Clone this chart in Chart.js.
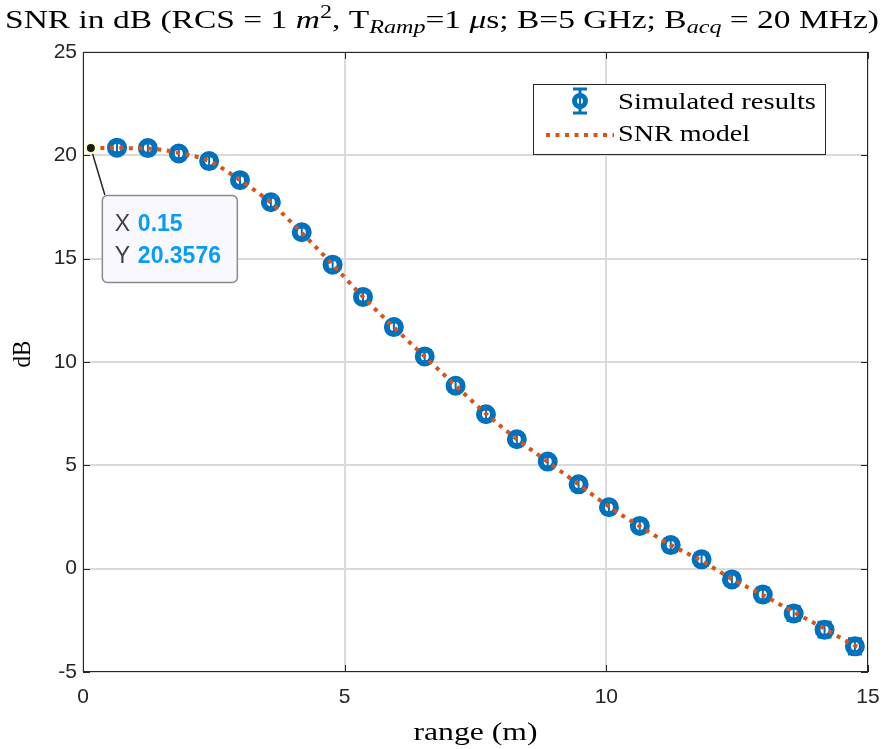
<!DOCTYPE html>
<html><head><meta charset="utf-8">
<script src="https://cdn.jsdelivr.net/npm/chart.js@4/dist/chart.umd.min.js"></script>
<style>html,body{margin:0;padding:0;background:#fff;} #wrap{width:884px;height:749px;position:relative;}</style>
</head><body><div id="wrap"><canvas id="c" width="884" height="749"></canvas></div>
<script>
// ---- data ----
const rangeM   = [0.65,1.24,1.83,2.41,3.00,3.59,4.18,4.77,5.35,5.94,6.53,7.12,7.70,8.29,8.88,9.47,10.05,10.64,11.23,11.82,12.40,12.99,13.58,14.17,14.75];
const snrSim   = [20.37,20.35,20.09,19.72,18.80,17.73,16.28,14.71,13.15,11.69,10.27,8.85,7.47,6.26,5.18,4.08,2.97,2.07,1.14,0.45,-0.52,-1.25,-2.17,-2.95,-3.76];
const snrErr   = [0.25,0.25,0.25,0.25,0.25,0.25,0.25,0.25,0.25,0.25,0.25,0.25,0.25,0.26,0.26,0.27,0.27,0.28,0.28,0.29,0.30,0.32,0.34,0.36,0.37];
const modelRange = [0.15,0.65,1.24,1.83,2.41,3.00,3.59,4.18,4.77,5.35,5.94,6.53,7.12,7.70,8.29,8.88,9.47,10.05,10.64,11.23,11.82,12.40,12.99,13.58,14.17,14.75,14.90];
const snrModel   = [20.3576,20.35,20.33,20.12,19.72,18.80,17.70,16.25,14.72,13.15,11.68,10.26,8.86,7.50,6.27,5.17,4.08,3.00,2.05,1.15,0.38,-0.50,-1.27,-2.10,-2.90,-3.72,-3.86];
const xTicks = [0,5,10,15];
const yTicks = [-5,0,5,10,15,20,25];
const seriesLabels = ['Simulated results','SNR model'];
const tipX = 0.15, tipY = 20.3576;
const xTitle = 'range (m)';
const yTitle = 'dB';
const titleParts = [
  {t:'SNR in dB (RCS = 1 '},
  {t:'m', it:true},
  {t:'2', sup:true},
  {t:', T'},
  {t:'Ramp', it:true, sub:true},
  {t:'=1 '},
  {t:'\u03BC', it:true},
  {t:'s; B=5 GHz; B'},
  {t:'acq', it:true, sub:true},
  {t:' = 20 MHz)'}
];

const BLUE = '#0072BD', ORANGE = '#D95319', AX = '#262626';
const SERIF = '"Liberation Serif", "Times New Roman", serif';
const SANS = '"Liberation Sans", Arial, Helvetica, sans-serif';

function stretchText(ctx, text, x, y, font, targetW, align) {
  ctx.save();
  ctx.font = font;
  const w = ctx.measureText(text).width;
  const s = targetW / w;
  ctx.textBaseline = 'alphabetic';
  ctx.textAlign = 'left';
  let x0 = x;
  if (align === 'center') x0 = x - targetW / 2;
  ctx.translate(x0, y);
  ctx.scale(s, 1);
  ctx.fillText(text, 0, 0);
  ctx.restore();
}

const deco = {
  id: 'deco',
  afterDatasetDraw(chart, args) {
    if (args.index !== 0) return;
    const ctx = chart.ctx, xs = chart.scales.x, ys = chart.scales.y;
    ctx.save();
    ctx.strokeStyle = BLUE;
    for (let i = 0; i < rangeM.length; i++) {
      const px = xs.getPixelForValue(rangeM[i]);
      const yt = ys.getPixelForValue(snrSim[i] + snrErr[i]);
      const yb = ys.getPixelForValue(snrSim[i] - snrErr[i]);
      ctx.lineWidth = 2;
      ctx.beginPath(); ctx.moveTo(px, yt); ctx.lineTo(px, yb); ctx.stroke();
      ctx.lineWidth = 3;
      ctx.beginPath();
      ctx.moveTo(px - 7, yt); ctx.lineTo(px + 7, yt);
      ctx.moveTo(px - 7, yb); ctx.lineTo(px + 7, yb);
      ctx.stroke();
    }
    ctx.restore();
  },
  afterDraw(chart) {
    const ctx = chart.ctx, a = chart.chartArea, xs = chart.scales.x, ys = chart.scales.y;
    ctx.save();
    // axes box
    ctx.strokeStyle = AX; ctx.lineWidth = 1;
    ctx.strokeRect(a.left + 0.5, a.top + 0.5, a.right - a.left - 1, a.bottom - a.top - 1);
    // inward ticks
    ctx.beginPath();
    xTicks.forEach(v => {
      const p = Math.round(xs.getPixelForValue(v)) + 0.5;
      ctx.moveTo(p, a.bottom); ctx.lineTo(p, a.bottom - 7);
      ctx.moveTo(p, a.top); ctx.lineTo(p, a.top + 7);
    });
    yTicks.forEach(v => {
      const p = Math.round(ys.getPixelForValue(v)) + 0.5;
      ctx.moveTo(a.left, p); ctx.lineTo(a.left + 7, p);
      ctx.moveTo(a.right, p); ctx.lineTo(a.right - 7, p);
    });
    ctx.stroke();

    // title (rich text)
    ctx.fillStyle = '#000';
    const fs = 25;
    const fontFor = p => (p.it ? 'italic ' : '') + Math.round((p.sub || p.sup) ? fs * 0.7 : fs) + 'px ' + SERIF;
    let total = 0;
    titleParts.forEach(p => { ctx.font = fontFor(p); p.w = ctx.measureText(p.t).width; total += p.w; });
    const targetW = 874, s = targetW / total;
    ctx.save();
    ctx.translate(442 - targetW / 2, 28);
    ctx.scale(s, 1);
    ctx.textBaseline = 'alphabetic'; ctx.textAlign = 'left';
    let cx = 0;
    titleParts.forEach(p => {
      ctx.font = fontFor(p);
      const dy = p.sub ? 5 : (p.sup ? -10 : 0);
      ctx.fillText(p.t, cx, dy);
      cx += p.w;
    });
    ctx.restore();

    // axis titles
    stretchText(ctx, xTitle, (a.left + a.right) / 2, 740, '25px ' + SERIF, 124, 'center');
    ctx.save();
    ctx.translate(30, 354);
    ctx.rotate(-Math.PI / 2);
    stretchText(ctx, yTitle, 0, 0, '25px ' + SERIF, 27, 'center');
    ctx.restore();

    // legend
    const L = {x: 533, y: 84, w: 292, h: 70};
    ctx.fillStyle = '#fff';
    ctx.fillRect(L.x, L.y, L.w, L.h);
    ctx.strokeStyle = AX; ctx.lineWidth = 1;
    ctx.strokeRect(L.x + 0.5, L.y + 0.5, L.w, L.h);
    // errorbar icon
    const ix = 580, iy = 101;
    ctx.strokeStyle = BLUE; ctx.lineWidth = 3;
    ctx.beginPath();
    ctx.moveTo(ix, iy - 12); ctx.lineTo(ix, iy + 12);
    ctx.moveTo(ix - 7, iy - 12); ctx.lineTo(ix + 7, iy - 12);
    ctx.moveTo(ix - 7, iy + 12); ctx.lineTo(ix + 7, iy + 12);
    ctx.stroke();
    ctx.lineWidth = 5;
    ctx.fillStyle = '#fff';
    ctx.beginPath(); ctx.arc(ix, iy, 5.5, 0, Math.PI * 2); ctx.fill(); ctx.stroke();
    ctx.lineWidth = 2;
    ctx.beginPath(); ctx.moveTo(ix, iy - 4); ctx.lineTo(ix, iy + 4); ctx.stroke();
    // dotted model icon
    ctx.strokeStyle = ORANGE; ctx.lineWidth = 4; ctx.setLineDash([4, 5.5]);
    ctx.beginPath(); ctx.moveTo(546, 135); ctx.lineTo(614, 135); ctx.stroke();
    ctx.setLineDash([]);
    ctx.fillStyle = '#000';
    stretchText(ctx, seriesLabels[0], 618, 109, '24px ' + SERIF, 198, 'left');
    stretchText(ctx, seriesLabels[1], 618, 141, '24px ' + SERIF, 132, 'left');

    // datatip
    const dx = xs.getPixelForValue(tipX), dy = ys.getPixelForValue(tipY);
    const bx = dx + 11, by = dy + 47, bw = 135, bh = 87;
    ctx.strokeStyle = AX; ctx.lineWidth = 1.5;
    ctx.beginPath(); ctx.moveTo(dx, dy); ctx.lineTo(bx + 3, by); ctx.stroke();
    ctx.fillStyle = 'rgba(255,255,200,0.9)';
    ctx.beginPath(); ctx.arc(dx, dy, 6.5, 0, Math.PI * 2); ctx.fill();
    ctx.fillStyle = '#1a1a1a';
    ctx.beginPath(); ctx.arc(dx, dy, 4, 0, Math.PI * 2); ctx.fill();
    ctx.beginPath();
    ctx.roundRect(bx + 0.5, by + 0.5, bw, bh, 5);
    ctx.fillStyle = '#f8f8fe'; ctx.fill();
    ctx.strokeStyle = '#8a8a8a'; ctx.lineWidth = 1.5; ctx.stroke();
    ctx.textBaseline = 'alphabetic'; ctx.textAlign = 'left';
    ctx.font = '23px ' + SANS; ctx.fillStyle = '#404040';
    ctx.fillText('X', bx + 13, by + 36);
    ctx.fillText('Y', bx + 13, by + 68);
    ctx.font = 'bold 23px ' + SANS; ctx.fillStyle = '#0a9cf5';
    ctx.fillText(String(tipX), bx + 36, by + 36);
    ctx.fillText(String(tipY), bx + 36, by + 68);
    ctx.restore();
  }
};

new Chart(document.getElementById('c'), {
  type: 'scatter',
  data: {
    datasets: [
      {
        label: seriesLabels[0],
        data: rangeM.map((x, i) => ({x, y: snrSim[i]})),
        showLine: false,
        pointRadius: 7,
        pointBorderWidth: 6,
        pointBackgroundColor: '#fff',
        pointBorderColor: BLUE,
        order: 1
      },
      {
        label: seriesLabels[1],
        data: modelRange.map((x, i) => ({x, y: snrModel[i]})),
        showLine: true,
        pointRadius: 0,
        borderColor: ORANGE,
        borderWidth: 4,
        borderDash: [4, 5.5],
        cubicInterpolationMode: 'monotone',
        order: 0
      }
    ]
  },
  plugins: [deco],
  options: {
    responsive: false,
    animation: false,
    devicePixelRatio: 1,
    layout: {autoPadding: false, padding: {top: 52, right: 16, left: 0, bottom: 0}},
    plugins: {legend: {display: false}, tooltip: {enabled: false}, title: {display: false}},
    scales: {
      x: {
        type: 'linear', min: 0, max: 15,
        afterBuildTicks: s => { s.ticks = xTicks.map(v => ({value: v})); },
        afterFit: s => { s.height = 77; s.paddingLeft = 0; s.paddingRight = 0; },
        grid: {color: '#dadada', lineWidth: 2, drawTicks: false},
        border: {display: false},
        ticks: {font: {family: SANS, size: 21}, color: AX, padding: 13, maxRotation: 0}
      },
      y: {
        type: 'linear', min: -5, max: 25,
        afterBuildTicks: s => { s.ticks = yTicks.map(v => ({value: v})); },
        afterFit: s => { s.width = 83; s.paddingTop = 0; s.paddingBottom = 0; },
        grid: {color: '#dadada', lineWidth: 2, drawTicks: false},
        border: {display: false},
        ticks: {font: {family: SANS, size: 21}, color: AX, padding: 6}
      }
    }
  }
});
</script>
</body></html>
